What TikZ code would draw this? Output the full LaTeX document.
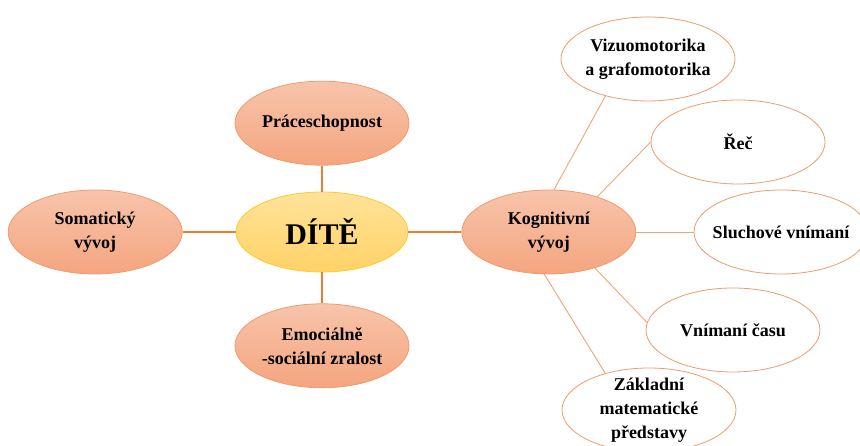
\documentclass[tikz,border=0pt]{standalone}
\usepackage{fontspec}
\setmainfont{Liberation Serif}
\usetikzlibrary{shapes.geometric,positioning}
\definecolor{MapOrange}{HTML}{ED7D31}
\definecolor{MapPeachTop}{HTML}{F8C4AB}
\definecolor{MapPeachBot}{HTML}{F4A57F}
\definecolor{MapPeachLine}{HTML}{F09B6C}
\definecolor{MapGoldTop}{HTML}{FFE39B}
\definecolor{MapGoldBot}{HTML}{FFD265}
\definecolor{MapGoldLine}{HTML}{FFC830}
\definecolor{MapThin}{HTML}{F2A577}

\begin{document}
\begin{tikzpicture}[
  x=1pt, y=1pt,
  node distance=53pt,
  bubble/.style={
    ellipse,
    inner sep=0pt,
    minimum width=174pt,
    minimum height=84pt,
    align=center,
    font=\fontsize{18}{24}\selectfont\bfseries
  },
  corebox/.style={bubble, draw=MapGoldLine, line width=0.8pt, top color=MapGoldTop, bottom color=MapGoldBot,
    minimum width=172pt, minimum height=80pt, font=\fontsize{30}{36}\selectfont\bfseries},
  areabox/.style={bubble, draw=MapPeachLine, line width=0.8pt, top color=MapPeachTop, bottom color=MapPeachBot},
  skillbox/.style={bubble, draw=MapPeachLine, line width=0.8pt, fill=white},
  mainlink/.style={draw=MapOrange, line width=2.2pt},
  sublink/.style={draw=MapThin, line width=0.9pt}
]
\useasboundingbox (0,0) rectangle (860,446);
\clip (0,0) rectangle (860,446);
% centre and the four areas
\node[corebox] (dite) at (322,214) {DÍTĚ};
\node[areabox, above=26pt of dite] (prace) {Práceschopnost};
\node[areabox, below=31pt of dite] (emoc) {Emociálně\\-sociální zralost};
\node[areabox, left=of dite] (soma) {Somatický\\vývoj};
\node[areabox, right=of dite] (kog) {Kognitivní\\vývoj};
% cognitive skills
\node[skillbox, inner xsep=-2pt] (vizuo) at (648,387) {Vizuomotorika\\a grafomotorika};
\node[skillbox] (rec) at (738,304) {Řeč};
\node[skillbox, inner xsep=-8pt] (sluch) at (781,214) {Sluchové vnímaní};
\node[skillbox] (cas) at (733,116) {Vnímaní času};
\node[skillbox, inner ysep=-6pt] (zakl) at (649,36) {Základní\\matematické\\představy};
\draw[mainlink] (prace) -- (dite);
\draw[mainlink] (emoc) -- (dite);
\draw[mainlink] (soma) -- (dite);
\draw[mainlink] (dite) -- (kog);
\draw[sublink] (kog.83) -- (vizuo.221);
\draw[sublink] (kog.36) -- (rec.180);
\draw[sublink] (kog.east) -- (sluch.west);
\draw[sublink] (kog.-38) -- (cas.175);
\draw[sublink] (kog.264) -- (zakl.140);
\end{tikzpicture}
\end{document}
